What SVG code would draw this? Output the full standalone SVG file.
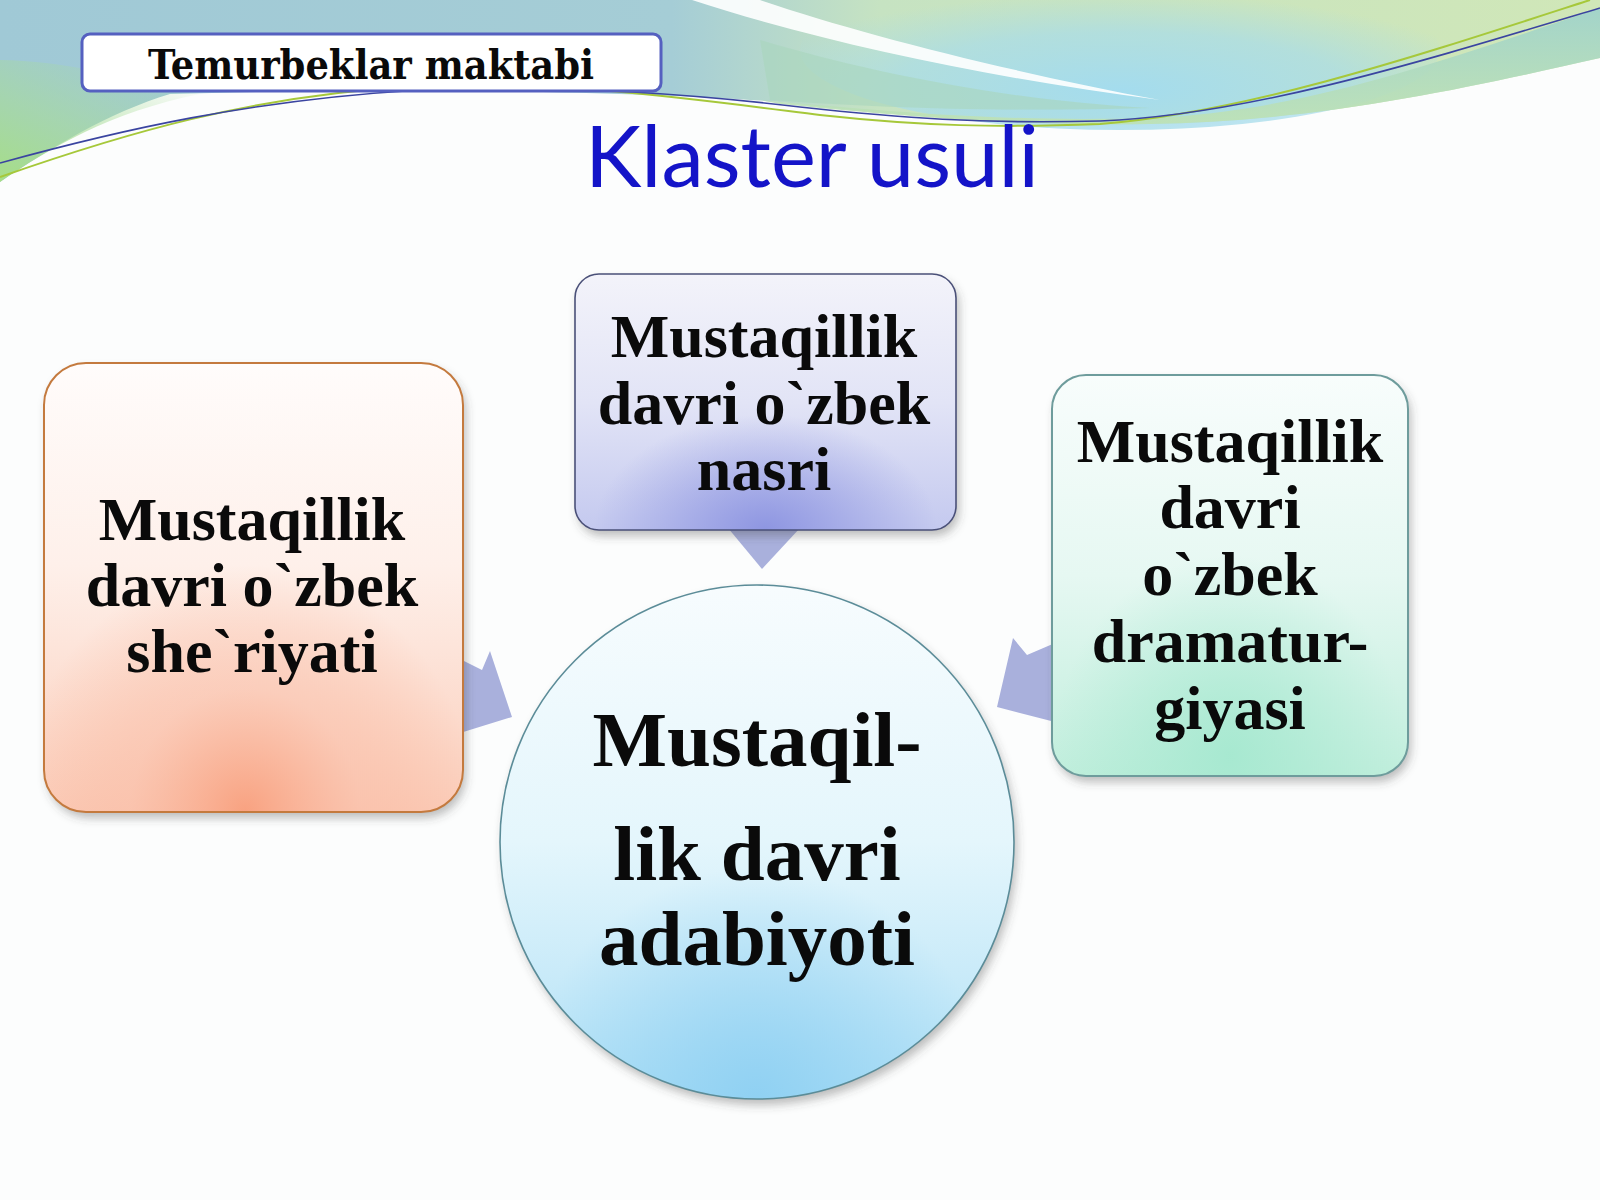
<svg xmlns="http://www.w3.org/2000/svg" width="1600" height="1200" viewBox="0 0 1600 1200">
<style>
.node{font-family:"Liberation Serif","Times New Roman",serif;font-weight:bold;font-size:62px;fill:#0a0a0a;text-anchor:middle}
.big{font-size:79px}
.arrow{fill:#a9b0dc}
</style>
<defs>
<linearGradient id="bandBase" x1="0" y1="0" x2="1" y2="0">
<stop offset="0" stop-color="#a0c9d6"/><stop offset="0.42" stop-color="#a5cdd6"/>
<stop offset="0.55" stop-color="#c6e3c2"/><stop offset="1" stop-color="#d0e7b8"/>
</linearGradient>
<linearGradient id="greenL" x1="0" y1="1" x2="0.7" y2="0">
<stop offset="0" stop-color="#a6de86" stop-opacity="1"/><stop offset="0.5" stop-color="#a8dc98" stop-opacity="0.6"/><stop offset="1" stop-color="#a8dc98" stop-opacity="0"/>
</linearGradient>
<radialGradient id="blueR" cx="0.5" cy="0.75" r="0.6">
<stop offset="0" stop-color="#a4dcee" stop-opacity="1"/><stop offset="0.6" stop-color="#a8dcea" stop-opacity="0.7"/><stop offset="1" stop-color="#a8dcea" stop-opacity="0"/>
</radialGradient>
<linearGradient id="tealBand" x1="0" y1="0" x2="0" y2="1">
<stop offset="0" stop-color="#9ed2cc"/><stop offset="1" stop-color="#bfe2b4"/>
</linearGradient>
<linearGradient id="gL" x1="0" y1="0" x2="0" y2="1">
<stop offset="0" stop-color="#fffcfb"/><stop offset="0.45" stop-color="#fef0ea"/><stop offset="1" stop-color="#fbcdba"/>
</linearGradient>
<radialGradient id="rL" cx="0.48" cy="1" r="0.55">
<stop offset="0" stop-color="#f89a76" stop-opacity="0.85"/><stop offset="0.5" stop-color="#f9b49a" stop-opacity="0.4"/><stop offset="1" stop-color="#f8a07c" stop-opacity="0"/>
</radialGradient>
<linearGradient id="gT" x1="0" y1="0" x2="0" y2="1">
<stop offset="0" stop-color="#f3f3fa"/><stop offset="0.5" stop-color="#e2e4f6"/><stop offset="1" stop-color="#c4c9ef"/>
</linearGradient>
<radialGradient id="rT" cx="0.5" cy="1" r="0.45">
<stop offset="0" stop-color="#8890e0" stop-opacity="0.9"/><stop offset="1" stop-color="#8890e0" stop-opacity="0"/>
</radialGradient>
<linearGradient id="gR" x1="0" y1="0" x2="0" y2="1">
<stop offset="0" stop-color="#f8fdfc"/><stop offset="0.5" stop-color="#e6f8f2"/><stop offset="1" stop-color="#c0eedc"/>
</linearGradient>
<radialGradient id="rR" cx="0.5" cy="0.95" r="0.5">
<stop offset="0" stop-color="#a4e8cf" stop-opacity="0.9"/><stop offset="1" stop-color="#a4e8cf" stop-opacity="0"/>
</radialGradient>
<linearGradient id="gC" x1="0" y1="0" x2="0" y2="1">
<stop offset="0" stop-color="#f7fcfe"/><stop offset="0.5" stop-color="#e4f6fc"/><stop offset="1" stop-color="#b0e0f6"/>
</linearGradient>
<radialGradient id="rC" cx="0.5" cy="1" r="0.45">
<stop offset="0" stop-color="#8ccff2" stop-opacity="0.9"/><stop offset="1" stop-color="#8ccff2" stop-opacity="0"/>
</radialGradient>
<filter id="sh" x="-10%" y="-10%" width="125%" height="125%">
<feDropShadow dx="3" dy="6" stdDeviation="5" flood-color="#404040" flood-opacity="0.35"/>
</filter>
</defs>

<rect width="1600" height="1200" fill="#fcfdfd"/>

<g id="background">
<path d="M0,0 H1600 V58 C1480,85 1320,122 1150,124 C1000,126 880,114 780,102 C620,90 360,88 170,94 C110,112 50,148 0,182 Z" fill="url(#bandBase)"/>
<path d="M0,60 C60,60 140,80 200,94 C110,112 50,148 0,182 Z" fill="url(#greenL)"/>
<ellipse cx="1120" cy="50" rx="320" ry="80" fill="url(#blueR)"/>
<path d="M760,100 C900,112 1000,122 1150,118 C1300,112 1440,62 1600,8 V58 C1480,85 1320,122 1150,124 C1000,126 880,114 780,104 Z" fill="url(#tealBand)" opacity="0.9"/>
<path d="M760,40 C860,70 1000,100 1150,108 C1000,112 880,108 770,100 Z" fill="#a8d6bc" opacity="0.6"/>
<path d="M692,0 H760 C860,34 1010,72 1160,100 C990,78 820,42 692,0 Z" fill="#ffffff" opacity="0.9"/>
<path d="M0,177 C120,135 250,95 420,86 C560,80 700,100 820,115 C920,126 1000,128 1100,124 C1250,112 1420,55 1590,0" fill="none" stroke="#a6c83a" stroke-width="2"/>
<path d="M0,163 C120,130 250,100 420,90 C560,84 700,95 800,107 C900,118 980,124 1100,121 C1250,115 1420,62 1600,8" fill="none" stroke="#3a44a0" stroke-width="1.6"/>
</g>

<g id="header">
<rect x="82" y="34" width="579" height="57" rx="8" fill="#ffffff" stroke="#5560c0" stroke-width="3"/>
<text x="371" y="79" font-family="DejaVu Serif Condensed, DejaVu Serif, serif" font-weight="bold" font-size="41" text-anchor="middle" fill="#0a0a0a" textLength="446" lengthAdjust="spacingAndGlyphs">Temurbeklar maktabi</text>
</g>

<text id="title" x="812" y="187" font-family="Lato, Open Sans, sans-serif" font-size="86" text-anchor="middle" fill="#1414c8" textLength="454" lengthAdjust="spacingAndGlyphs">Klaster usuli</text>

<g id="connectors">
<polygon class="arrow" points="728,528 800,528 762,569"/>
<polygon class="arrow" points="460,659 482,670 490,651 512,717 460,733"/>
<polygon class="arrow" points="1013,638 1027,655 1055,643 1055,722 997,707"/>
</g>

<g id="node-left">
<rect x="44" y="363" width="419" height="449" rx="42" fill="url(#gL)" filter="url(#sh)"/>
<rect x="44" y="363" width="419" height="449" rx="42" fill="url(#rL)" stroke="#c47a3e" stroke-width="2"/>
<text class="node" x="252" y="540">Mustaqillik</text>
<text class="node" x="252" y="606">davri o`zbek</text>
<text class="node" x="252" y="672">she`riyati</text>
</g>

<g id="node-top">
<rect x="575" y="274" width="381" height="256" rx="24" fill="url(#gT)" filter="url(#sh)"/>
<rect x="575" y="274" width="381" height="256" rx="24" fill="url(#rT)" stroke="#4a5078" stroke-width="1.6"/>
<text class="node" x="764" y="357">Mustaqillik</text>
<text class="node" x="764" y="424">davri o`zbek</text>
<text class="node" x="764" y="490">nasri</text>
</g>

<g id="node-right">
<rect x="1052" y="375" width="356" height="401" rx="34" fill="url(#gR)" filter="url(#sh)"/>
<rect x="1052" y="375" width="356" height="401" rx="34" fill="url(#rR)" stroke="#6e9c9c" stroke-width="2"/>
<text class="node" x="1230" y="462">Mustaqillik</text>
<text class="node" x="1230" y="528">davri</text>
<text class="node" x="1230" y="595">o`zbek</text>
<text class="node" x="1230" y="662">dramatur-</text>
<text class="node" x="1230" y="729">giyasi</text>
</g>

<g id="node-center">
<circle cx="757" cy="842" r="257" fill="url(#gC)" filter="url(#sh)"/>
<circle cx="757" cy="842" r="257" fill="url(#rC)" stroke="#5b8c98" stroke-width="1.6"/>
<text class="node big" x="757" y="766">Mustaqil-</text>
<text class="node big" x="757" y="880">lik davri</text>
<text class="node big" x="757" y="965">adabiyoti</text>
</g>
</svg>
